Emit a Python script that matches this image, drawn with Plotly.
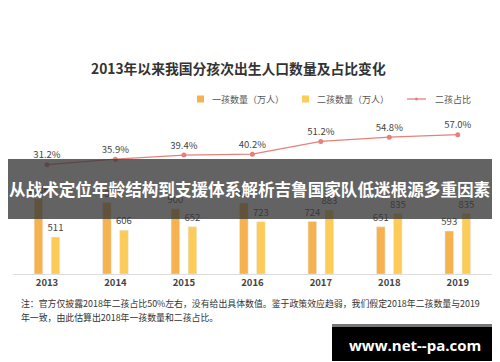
import plotly.graph_objects as go

years = ["2013", "2014", "2015", "2016", "2017", "2018", "2019"]
first_child = [1036, 985, 900, 980, 724, 651, 593]
second_child = [511, 606, 652, 723, 883, 835, 835]
second_share = [31.2, 35.9, 39.4, 40.2, 51.2, 54.8, 57.0]
share_labels = ["31.2%", "35.9%", "39.4%", "40.2%", "51.2%", "54.8%", "57.0%"]

title_text = "2013年以来我国分孩次出生人口数量及占比变化"
legend_names = ["一孩数量（万人）", "二孩数量（万人）", "二孩占比"]
note_line1 = "注：官方仅披露2018年二孩占比50%左右，没有给出具体数值。鉴于政策效应趋弱，我们假定2018年二孩数量与2019"
note_line2 = "年一致，由此估算出2018年一孩数量和二孩占比。"
banner_text = "从战术定位年龄结构到支援体系解析吉鲁国家队低迷根源多重因素"
watermark = "www.net--pa.com"

W, H = 500, 362
C1 = "#F5B24E"
C2 = "#FDCB58"
CL = "#E4817A"
FONT = "Noto Sans CJK SC"

def px(x):
    return x / W

def py(y):
    return 1 - y / H

fig = go.Figure()
fig.add_trace(go.Bar(
    x=years, y=first_child, name=legend_names[0], marker_color=C1,
    width=0.125, offset=-0.187,
    text=[str(v) for v in first_child], textposition="outside", constraintext="none",
    textfont=dict(size=9.5, color="#444", family=FONT), cliponaxis=False,
    showlegend=False,
))
fig.add_trace(go.Bar(
    x=years, y=second_child, name=legend_names[1], marker_color=C2,
    width=0.125, offset=0.062,
    text=[str(v) for v in second_child], textposition="outside", constraintext="none",
    textfont=dict(size=9.5, color="#444", family=FONT), cliponaxis=False,
    showlegend=False,
))
fig.add_trace(go.Scatter(
    x=years, y=second_share, name=legend_names[2], yaxis="y2",
    mode="lines+markers+text", line=dict(color=CL, width=1.3),
    marker=dict(color=CL, size=5),
    text=share_labels, textposition="top center",
    textfont=dict(size=9.5, color="#444", family=FONT), cliponaxis=False,
    showlegend=False,
))

plot_top, plot_bot = 110, 266
fig.update_layout(
    width=W, height=H,
    margin=dict(l=0, r=0, t=0, b=0),
    paper_bgcolor="white", plot_bgcolor="white",
    barmode="overlay",
    font=dict(family=FONT),
    xaxis=dict(domain=[px(4.75), px(484)], range=[-0.5, 6.5],
               showline=True, linecolor="#dddddd", linewidth=1,
               showgrid=False, ticks="",
               tickfont=dict(size=9.5, color="#444", family=FONT, weight="bold")),
    yaxis=dict(domain=[py(plot_bot), py(plot_top)], range=[0, 2155],
               visible=False, showgrid=False),
    yaxis2=dict(domain=[py(plot_bot), py(plot_top)], range=[-62.8, 71.3],
                overlaying="y", visible=False, showgrid=False),
)

def note(text, x, y, size, color, xanchor="left", family=FONT):
    return dict(text=text, x=px(x), y=py(y), xref="paper", yref="paper",
                xanchor=xanchor, yanchor="middle", showarrow=False,
                font=dict(size=size, color=color, family=family))

ann = []
ann.append(note("<b>" + title_text + "</b>", 230, 60, 13.8, "#333", "center"))
shapes = []
shapes.append(dict(type="rect", xref="paper", yref="paper", x0=px(189), x1=px(196), y0=py(94.5), y1=py(87.5),
                   fillcolor=C1, line=dict(width=0)))
shapes.append(dict(type="rect", xref="paper", yref="paper", x0=px(294), x1=px(301), y0=py(94.5), y1=py(87.5),
                   fillcolor=C2, line=dict(width=0)))
shapes.append(dict(type="line", xref="paper", yref="paper", x0=px(399), x1=px(418), y0=py(91), y1=py(91),
                   line=dict(color=CL, width=1.3)))
shapes.append(dict(type="circle", xref="paper", yref="paper", x0=px(407), x1=px(410), y0=py(92.5), y1=py(89.5),
                   fillcolor=CL, line=dict(width=0)))
for txt, x in [(legend_names[0], 202), (legend_names[1], 307), (legend_names[2], 425)]:
    ann.append(note(txt, x, 91, 9, "#555"))
ann.append(note(note_line1, 11, 295, 8.9, "#333"))
ann.append(note(note_line2, 11, 309, 8.9, "#333"))
# banner
shapes.append(dict(type="rect", xref="paper", yref="paper", x0=0, x1=1, y0=py(211), y1=py(151),
                   fillcolor="rgba(55,55,55,0.78)", line=dict(width=0), layer="above"))
ann.append(note("<b>" + banner_text + "</b>", 241, 181, 16.6, "white", "center"))
# watermark
shapes.append(dict(type="rect", xref="paper", yref="paper", x0=px(324), x1=px(491), y0=py(353), y1=py(316),
                   fillcolor="black", line=dict(width=0), layer="above"))
shapes.append(dict(type="rect", xref="paper", yref="paper", x0=px(324), x1=px(491), y0=py(319), y1=py(316),
                   fillcolor="#777", line=dict(width=0), layer="above"))
ann.append(note("<b>" + watermark + "</b>", 407, 337, 15, "white", "center", "Open Sans"))

fig.update_layout(annotations=ann, shapes=shapes)
fig.write_html("out.html")
